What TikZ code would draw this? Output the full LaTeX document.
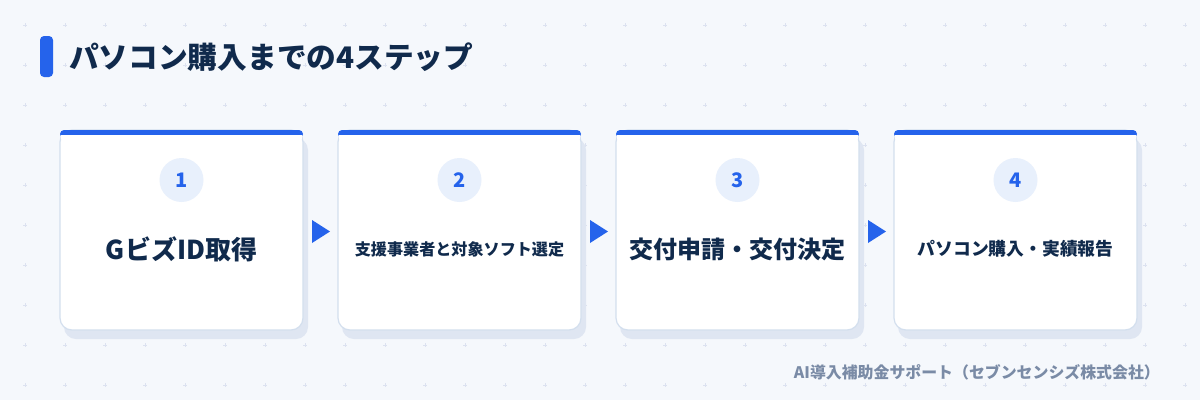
\documentclass[tikz,border=0pt]{standalone}
\usepackage{fontspec}
\setmainfont{Noto Sans CJK JP}
\definecolor{bgc}{HTML}{F5F8FC}
\definecolor{dotc}{HTML}{DCE2F0}
\definecolor{blue}{HTML}{2563EB}
\definecolor{navy}{HTML}{102A4C}
\definecolor{cardb}{HTML}{D3DFEE}
\definecolor{shad}{HTML}{DFE6F2}
\definecolor{circ}{HTML}{E8F0FC}
\definecolor{foot}{HTML}{7A8BA6}
\tikzset{
  cardbox/.style={draw=cardb, line width=1.2pt, fill=white, rounded corners=12pt},
  numc/.style={circle, fill=circ, minimum size=44pt, inner sep=0pt, text=blue, font=\bfseries\fontsize{20}{24}\selectfont},
  bigtxt/.style={text=navy, font=\bfseries\fontsize{24}{28}\selectfont},
  smalltxt/.style={text=navy, font=\bfseries\fontsize{16.1}{19}\selectfont},
  midtxt/.style={text=navy, font=\bfseries\fontsize{17.8}{21}\selectfont},
  arr/.style={fill=blue, draw=none}
}
\begin{document}
\begin{tikzpicture}[x=1pt,y=-1pt]
\useasboundingbox (0,0) rectangle (1200,400);
\fill[bgc] (0,0) rectangle (1200,400);
% dot grid
\foreach \i in {0,...,29}{
  \foreach \j in {0,...,9}{
    \draw[dotc, line width=0.8pt] ({25+40*\i-1.8},{25+40*\j}) -- ({25+40*\i+1.8},{25+40*\j})
      ({25+40*\i},{25+40*\j-1.8}) -- ({25+40*\i},{25+40*\j+1.8});
  }
}
% title
\fill[blue, rounded corners=4pt] (40,36) rectangle (53,77);
\node[anchor=west, text=navy, font=\bfseries\fontsize{29.7}{34}\selectfont, inner sep=0pt] (title) at (69,57) {パソコン購入までの4ステップ};
% cards
\foreach \n/\x in {1/60,2/338,3/616,4/894}{
  \fill[shad, rounded corners=12pt] (\x+4,138) rectangle (\x+248,339);
  \draw[cardbox] (\x,130) rectangle (\x+243,330);
  \fill[blue, rounded corners=4pt] (\x,130) rectangle (\x+243,138);
  \fill[white] (\x+1,135) rectangle (\x+242,138.5);
  \node[numc] (n\n) at (\x+121.5,180) {\n};
}
\node[bigtxt, font=\bfseries\fontsize{26}{30}\selectfont] (t1) at (181.5,249) {GビズID取得};
\node[smalltxt] (t2) at (459.5,249) {支援事業者と対象ソフト選定};
\node[bigtxt] (t3) at (737.5,249) {交付申請・交付決定};
\node[midtxt] (t4) at (1015.5,249) {パソコン購入・実績報告};
% arrows
\foreach \x in {312,590,868}{
  \fill[arr] (\x,220) -- (\x+18,231.5) -- (\x,243) -- cycle;
}
% footer
\node[anchor=east, text=foot, font=\bfseries\fontsize{15.9}{19}\selectfont, inner sep=0pt] (ft) at (1160,372) {AI導入補助金サポート（セブンセンシズ株式会社）};
\end{tikzpicture}
\end{document}
